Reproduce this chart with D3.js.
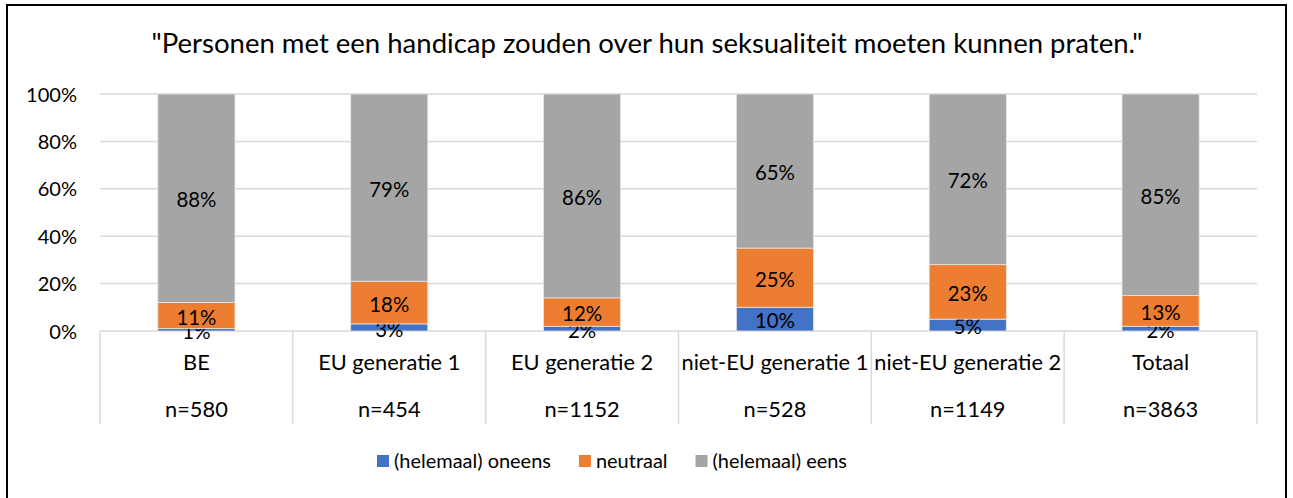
<!DOCTYPE html>
<html>
<head>
<meta charset="utf-8">
<script src="https://cdn.jsdelivr.net/npm/d3@7"></script>
<style>
  html, body { margin: 0; padding: 0; background: #fff; }
  svg text { font-family: Lato, "Noto Sans", sans-serif; fill: #000; }
</style>
</head>
<body>
<div id="chart"></div>
<script>
const title = '"Personen met een handicap zouden over hun seksualiteit moeten kunnen praten."';
const categories = ['BE', 'EU generatie 1', 'EU generatie 2', 'niet-EU generatie 1', 'niet-EU generatie 2', 'Totaal'];
const sampleSizes = ['n=580', 'n=454', 'n=1152', 'n=528', 'n=1149', 'n=3863'];
const seriesNames = ['(helemaal) oneens', 'neutraal', '(helemaal) eens'];
const oneens = [1, 3, 2, 10, 5, 2];
const neutraal = [11, 18, 12, 25, 23, 13];
const eens = [88, 79, 86, 65, 72, 85];
const yTicks = [0, 20, 40, 60, 80, 100];
const colors = ['#4472c4', '#ed7d31', '#a5a5a5'];

const width = 1293, height = 498;
const plot = { left: 100, right: 1257, top: 94, bottom: 331 };
const tableBottom = 424;

const svg = d3.select('#chart').append('svg')
  .attr('width', width)
  .attr('height', height);

// helper: font size so that a sample string gets a given width
function fitSize(sample, target) {
  const t = svg.append('text').attr('font-size', 20).text(sample);
  const w = t.node().getComputedTextLength();
  t.remove();
  return 20 * target / w;
}
const titleSize = fitSize(title, 991);
const tickSize = fitSize('100%', 51);
const catSize = fitSize('niet-EU generatie 1', 187);
const labelSize = fitSize('88%', 40);
const legendSize = fitSize('(helemaal) oneens', 157);

// frame
svg.append('rect')
  .attr('x', 7).attr('y', 5)
  .attr('width', 1279).attr('height', 500)
  .attr('fill', 'none')
  .attr('stroke', '#000')
  .attr('stroke-width', 2);

svg.append('text')
  .attr('x', 647)
  .attr('y', 53)
  .attr('text-anchor', 'middle')
  .attr('font-size', titleSize)
  .text(title);

const table = categories.map((c, i) => ({
  cat: c, oneens: oneens[i], neutraal: neutraal[i], eens: eens[i]
}));

const y = d3.scaleLinear().domain([0, 100]).range([plot.bottom, plot.top]);
const xCell = d3.scaleBand().domain(categories).range([plot.left, plot.right]);
const x = d3.scaleBand().domain(categories).range([plot.left, plot.right])
  .paddingInner(0.6).paddingOuter(0.3);

// gridlines
svg.append('g')
  .selectAll('line')
  .data(yTicks)
  .join('line')
  .attr('x1', plot.left).attr('x2', plot.right)
  .attr('y1', d => y(d)).attr('y2', d => y(d))
  .attr('stroke', '#d9d9d9')
  .attr('stroke-width', 1.5);

// y axis labels
const yAxis = svg.append('g')
  .attr('transform', `translate(${plot.left - 23},0)`)
  .call(d3.axisLeft(y).tickValues(yTicks).tickSize(0).tickPadding(0).tickFormat(d => d + '%'));
yAxis.select('.domain').remove();
yAxis.selectAll('text')
  .attr('font-size', tickSize)
  .attr('font-family', 'Lato, "Noto Sans", sans-serif')
  .attr('fill', '#000')
  .attr('dy', '0.35em');

// category table lines
const bounds = categories.map(c => xCell(c)).concat([plot.right]);
svg.append('g')
  .selectAll('line')
  .data(bounds)
  .join('line')
  .attr('x1', d => d).attr('x2', d => d)
  .attr('y1', plot.bottom).attr('y2', tableBottom)
  .attr('stroke', '#d9d9d9')
  .attr('stroke-width', 1.5);

// stacked bars
const stack = d3.stack().keys(['oneens', 'neutraal', 'eens']);
const layers = stack(table);

const groups = svg.append('g')
  .selectAll('g')
  .data(layers)
  .join('g')
  .attr('fill', (d, i) => colors[i]);

groups.selectAll('rect')
  .data(d => d)
  .join('rect')
  .attr('x', d => x(d.data.cat))
  .attr('width', x.bandwidth())
  .attr('y', d => y(d[1]))
  .attr('height', d => y(d[0]) - y(d[1]))
  .attr('stroke', '#e6e6e6')
  .attr('stroke-width', 0.8);

// data labels
groups.selectAll('text')
  .data(d => d.map(v => ({ v, key: d.key })))
  .join('text')
  .attr('x', d => x(d.v.data.cat) + x.bandwidth() / 2)
  .attr('y', d => (y(d.v[0]) + y(d.v[1])) / 2 + 2)
  .attr('dy', '0.35em')
  .attr('text-anchor', 'middle')
  .attr('font-size', labelSize)
  .style('fill', '#000')
  .text(d => d.v.data[d.key] + '%');

// category labels
svg.append('g')
  .selectAll('text')
  .data(categories)
  .join('text')
  .attr('x', d => xCell(d) + xCell.bandwidth() / 2)
  .attr('y', 370)
  .attr('text-anchor', 'middle')
  .attr('font-size', catSize)
  .text(d => d);

svg.append('g')
  .selectAll('text')
  .data(sampleSizes)
  .join('text')
  .attr('x', (d, i) => xCell(categories[i]) + xCell.bandwidth() / 2)
  .attr('y', 417)
  .attr('text-anchor', 'middle')
  .attr('font-size', catSize)
  .text(d => d);

// legend
const legend = svg.append('g').attr('transform', 'translate(377,0)');
let lx = 0;
seriesNames.forEach((name, i) => {
  const item = legend.append('g').attr('transform', `translate(${lx},0)`);
  item.append('rect')
    .attr('x', 0).attr('y', 455)
    .attr('width', 12).attr('height', 12)
    .attr('fill', colors[i]);
  const t = item.append('text')
    .attr('x', 17)
    .attr('y', 467.5)
    .attr('font-size', legendSize)
    .text(name);
  lx += 17 + t.node().getComputedTextLength() + 28;
});
</script>
</body>
</html>
